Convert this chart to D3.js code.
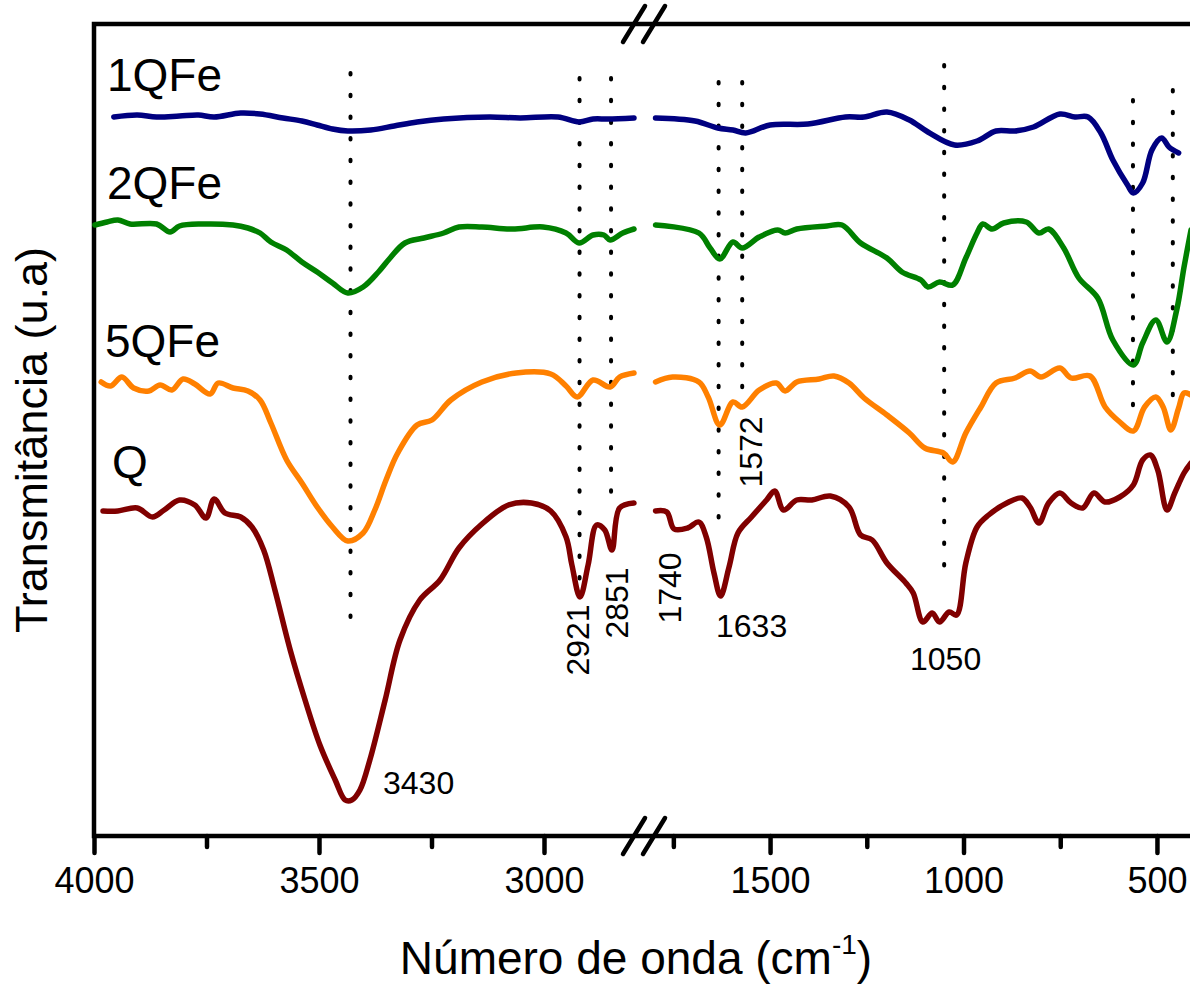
<!DOCTYPE html>
<html>
<head>
<meta charset="utf-8">
<script src="https://cdn.jsdelivr.net/npm/d3@7"></script>
<style>
  body { margin: 0; background: #fff; }
  text { font-family: "Liberation Sans", Arial, sans-serif; fill: #000; }
</style>
</head>
<body>
<div id="chart"></div>
<script>
// Data: [wavenumber (cm-1), transmittance (a.u.)]
// ==============================
var leftDomain = [4000, 2800];
var rightDomain = [1800, 412];
var leftMajor = [4000, 3500, 3000];
var leftMinor = [3750, 3250];
var rightMajor = [1500, 1000, 500];
var rightMinor = [1750, 1250, 750];

var seriesNames = ["1QFe", "2QFe", "5QFe", "Q"];

var q1FeLeft = [[3956,71.9],[3904,72.1],[3861,71.9],[3810,72.0],[3768,72.1],[3733,71.9],[3674,72.3],[3631,72.2],[3580,71.8],[3538,71.5],[3504,71.1],[3470,70.7],[3436,70.5],[3385,70.6],[3333,71.0],[3282,71.4],[3223,71.7],[3121,71.9],[3053,71.8],[2969,71.9],[2922,71.4],[2891,71.7],[2858,71.7],[2800,71.8]];
var q1FeRight = [[1796,71.8],[1694,71.5],[1635,70.8],[1596,70.6],[1563,70.3],[1500,71.1],[1402,71.2],[1305,71.9],[1257,71.9],[1198,72.4],[1140,71.6],[1092,70.4],[1023,69.1],[965,69.5],[916,70.5],[867,70.5],[819,70.9],[751,72.2],[712,71.9],[678,71.9],[645,70.3],[614,67.6],[576,65.1],[561,64.3],[537,65.3],[513,68.6],[488,69.8],[469,68.9],[444,68.3]];

var q2FeLeft = [[3998,61.1],[3971,61.4],[3947,61.6],[3920,61.2],[3861,61.2],[3831,60.4],[3810,61.0],[3759,61.2],[3691,61.1],[3658,60.8],[3631,60.3],[3607,59.4],[3572,58.6],[3538,57.4],[3504,56.4],[3470,55.3],[3436,54.3],[3402,54.9],[3368,56.4],[3342,57.8],[3309,59.3],[3267,59.8],[3223,60.3],[3189,60.9],[3138,60.9],[3070,60.7],[3002,60.9],[2951,60.3],[2922,59.3],[2891,60.1],[2867,60.1],[2853,59.6],[2825,60.3],[2800,60.7]];
var q2FeRight = [[1796,61.1],[1684,60.3],[1655,58.8],[1630,57.7],[1596,59.4],[1572,58.8],[1528,59.9],[1480,60.6],[1461,60.3],[1431,60.7],[1353,61.0],[1314,61.1],[1266,59.3],[1198,57.8],[1159,56.4],[1110,55.6],[1092,54.9],[1062,55.4],[1028,55.1],[994,57.8],[965,60.3],[950,61.2],[926,60.7],[896,61.3],[838,61.4],[805,60.3],[780,60.7],[741,58.8],[702,55.8],[653,53.8],[614,49.6],[561,47.1],[537,49.3],[503,51.6],[474,49.4],[449,52.6],[430,56.9],[412,60.6]];

var q5FeLeft = [[3984,45.4],[3963,45.0],[3938,45.9],[3912,44.8],[3878,44.5],[3853,45.1],[3827,44.6],[3802,45.7],[3776,45.2],[3742,44.2],[3724,45.3],[3691,44.8],[3658,44.5],[3631,43.6],[3607,41.3],[3572,37.6],[3538,35.3],[3504,32.9],[3470,30.9],[3436,29.5],[3402,30.3],[3376,32.6],[3351,35.6],[3325,38.3],[3282,41.1],[3249,41.6],[3207,43.6],[3138,45.4],[3062,46.3],[2985,46.2],[2951,45.0],[2926,43.9],[2891,45.6],[2853,44.9],[2832,45.9],[2800,46.3]];
var q5FeRight = [[1796,45.4],[1752,45.9],[1684,45.4],[1660,43.9],[1630,41.1],[1596,43.4],[1572,42.9],[1528,44.6],[1484,45.3],[1461,44.5],[1431,45.4],[1373,45.7],[1335,46.0],[1296,45.3],[1257,43.8],[1198,42.1],[1140,40.3],[1100,38.8],[1052,38.3],[1028,37.4],[994,40.3],[955,42.9],[916,45.3],[867,45.8],[828,46.5],[800,45.9],[751,46.8],[722,45.8],[673,46.0],[634,42.9],[596,41.4],[561,40.5],[532,42.9],[503,43.9],[484,42.9],[464,40.6],[444,42.8],[430,44.3],[412,44.1]];

var qLeft = [[3980,32.5],[3947,32.5],[3904,32.8],[3870,31.9],[3844,32.6],[3810,33.6],[3776,33.1],[3751,31.8],[3733,33.7],[3709,32.3],[3674,31.9],[3649,30.9],[3623,28.6],[3598,24.6],[3564,18.6],[3531,13.6],[3498,9.1],[3464,5.6],[3442,3.6],[3427,3.6],[3409,4.6],[3387,7.6],[3353,13.6],[3320,19.6],[3276,23.6],[3231,25.6],[3189,28.8],[3138,31.2],[3079,33.1],[3028,33.3],[2985,32.5],[2951,29.9],[2938,27.1],[2920,23.9],[2902,27.1],[2883,31.1],[2865,30.6],[2849,28.6],[2832,32.8],[2800,33.3]];
var qRight = [[1796,32.5],[1767,32.4],[1748,30.7],[1713,30.8],[1684,31.4],[1665,29.9],[1645,26.3],[1628,24.0],[1606,26.9],[1583,30.3],[1548,31.9],[1509,33.6],[1488,34.5],[1465,32.6],[1431,33.6],[1392,33.6],[1344,34.0],[1296,32.9],[1266,30.1],[1236,29.6],[1198,27.3],[1149,25.3],[1130,24.3],[1105,21.4],[1081,22.3],[1062,21.4],[1037,22.4],[1018,22.1],[994,27.3],[965,30.9],[935,32.1],[888,33.3],[849,33.8],[828,32.9],[805,31.3],[780,33.3],[751,34.3],[722,33.3],[692,32.8],[663,34.3],[634,33.4],[596,33.9],[561,35.1],[537,37.6],[517,38.1],[498,36.6],[474,32.6],[454,34.3],[430,36.3],[412,37.3]];

// dotted marker lines: [wavenumber, top, bottom] in a.u.
var peakLines = [[3430,76.3,21.1],[2921,75.8,24.8],[2851,75.8,33.1],[1633,75.4,31.6],[1572,75.4,44.6],[1050,77.1,26.4],[562,73.6,42.8],[459,74.6,43.8]];
var peakLabels = ["3430", "2921", "2851", "1740", "1633", "1572", "1050"];

// Layout
// ==============================
var svgWidth = 1190;
var svgHeight = 985;
var colors = ["#000080", "#008000", "#ff8000", "#800000"];

var svg = d3.select("#chart")
    .append("svg")
    .attr("width", svgWidth)
    .attr("height", svgHeight);

var xLeft = d3.scaleLinear().domain(leftDomain).range([94, 634]);
var xRight = d3.scaleLinear().domain(rightDomain).range([654, 1191]);
var yScale = d3.scaleLinear().domain([0, 81.2]).range([836, 24]);

var yTop = yScale.range()[1];
var yBottom = yScale.range()[0];

// axes
function drawAxis(scale, major, minor) {
    var gMaj = svg.append("g")
        .attr("transform", `translate(0, ${yBottom})`)
        .call(d3.axisBottom(scale).tickValues(major).tickSize(17).tickPadding(14)
            .tickSizeOuter(0).tickFormat(d3.format("d")));
    gMaj.select(".domain").remove();
    gMaj.attr("font-family", null).attr("font-size", null);
    gMaj.selectAll("line").attr("stroke", "#000").attr("stroke-width", 4.5).attr("stroke-linecap", "round");
    gMaj.selectAll("text").attr("font-size", 36);

    var gMin = svg.append("g")
        .attr("transform", `translate(0, ${yBottom})`)
        .call(d3.axisBottom(scale).tickValues(minor).tickSize(11).tickFormat("").tickSizeOuter(0));
    gMin.select(".domain").remove();
    gMin.selectAll("line").attr("stroke", "#000").attr("stroke-width", 4.5).attr("stroke-linecap", "round");
}
drawAxis(xLeft, leftMajor, leftMinor);
drawAxis(xRight, rightMajor, rightMinor);

// frame
var xL = xLeft.range()[0];
var xR = xRight.range()[1];
svg.append("path")
    .attr("d", `M${xL},${yBottom} V${yTop} H${xR} M${xL},${yBottom} H${xR}`)
    .attr("fill", "none")
    .attr("stroke", "#000")
    .attr("stroke-width", 4.5)
    .attr("stroke-linecap", "square");

// break marks
[xLeft.range()[1], xRight.range()[0]].forEach(function (bx) {
    [yTop, yBottom].forEach(function (by) {
        svg.append("line")
            .attr("x1", bx - 11).attr("y1", by + 18)
            .attr("x2", bx + 11).attr("y2", by - 18)
            .attr("stroke", "#000")
            .attr("stroke-width", 4.5)
            .attr("stroke-linecap", "round");
    });
});

// dotted marker lines
peakLines.forEach(function (p) {
    var x = p[0] > 2000 ? xLeft(p[0]) : xRight(p[0]);
    svg.append("line")
        .attr("x1", x).attr("x2", x)
        .attr("y1", yScale(p[1])).attr("y2", yScale(p[2]))
        .attr("stroke", "#000")
        .attr("stroke-width", 4)
        .attr("stroke-linecap", "round")
        .attr("stroke-dasharray", "1.5 20.2");
});

// spectra
var series = [
    [q1FeLeft, q1FeRight],
    [q2FeLeft, q2FeRight],
    [q5FeLeft, q5FeRight],
    [qLeft, qRight]
];

series.forEach(function (s, i) {
    [xLeft, xRight].forEach(function (sc, j) {
        var line = d3.line()
            .x(d => sc(d[0]))
            .y(d => yScale(d[1]))
            .curve(d3.curveCatmullRom.alpha(0.5));
        svg.append("path")
            .datum(s[j])
            .attr("d", line)
            .attr("fill", "none")
            .attr("stroke", colors[i])
            .attr("stroke-width", 5.5)
            .attr("stroke-linejoin", "round")
            .attr("stroke-linecap", "round");
    });
});

// series names
var namePos = [[107, 91], [107, 199], [105, 357], [112, 478]];
seriesNames.forEach(function (n, i) {
    svg.append("text")
        .attr("x", namePos[i][0])
        .attr("y", namePos[i][1])
        .attr("font-size", 46)
        .text(n);
});

// peak labels
var labelPos = {
    "3430": { x: 383, y: 794, rot: false },
    "2921": { x: 578, y: 640, rot: true },
    "2851": { x: 617, y: 603, rot: true },
    "1740": { x: 670, y: 588, rot: true },
    "1633": { x: 716, y: 637, rot: false },
    "1572": { x: 751, y: 452, rot: true },
    "1050": { x: 910, y: 670, rot: false }
};
peakLabels.forEach(function (l) {
    var p = labelPos[l];
    var t = svg.append("text").attr("font-size", 32).text(l);
    if (p.rot) {
        t.attr("transform", `translate(${p.x}, ${p.y}) rotate(-90)`)
            .attr("text-anchor", "middle")
            .attr("dominant-baseline", "central");
    } else {
        t.attr("x", p.x).attr("y", p.y);
    }
});

// axis titles
svg.append("text")
    .attr("transform", "translate(47, 440) rotate(-90)")
    .attr("text-anchor", "middle")
    .attr("font-size", 45)
    .text("Transmitância (u.a)");

var xt = svg.append("text")
    .attr("x", 636)
    .attr("y", 974)
    .attr("text-anchor", "middle")
    .attr("font-size", 46);
xt.append("tspan").text("Número de onda (cm");
xt.append("tspan").attr("font-size", 28).attr("dy", -20).text("-1");
xt.append("tspan").attr("dy", 20).text(")");
</script>
</body>
</html>
